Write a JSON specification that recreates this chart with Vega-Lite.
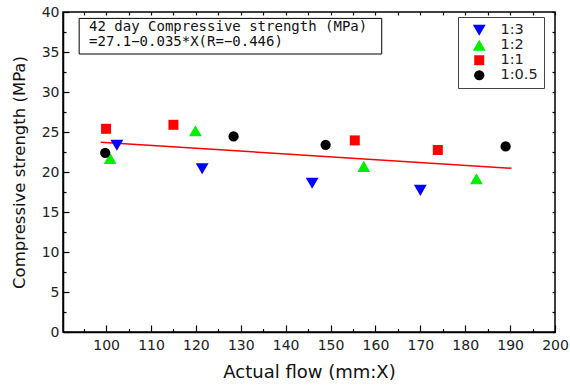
{
  "$schema": "https://vega.github.io/schema/vega-lite/v6.json",
  "width": 492,
  "height": 320,
  "autosize": {"type": "none"},
  "padding": {"left": 63, "top": 12, "right": 15, "bottom": 55},
  "config": {
    "font": "DejaVu Sans",
    "view": {"stroke": "#000", "strokeWidth": 1.5},
    "axis": {"grid": false, "domainColor": "#000", "domainWidth": 1.5, "tickColor": "#000", "tickWidth": 1.2, "labelColor": "#222", "titleColor": "#111", "labelFontSize": 14, "titleFontWeight": "normal", "labelFlush": false, "labelOverlap": false}
  },
  "datasets": {
    "points": [
      {"group": "1:3", "flow": 102.4, "strength": 23.35},
      {"group": "1:3", "flow": 121.4, "strength": 20.4},
      {"group": "1:3", "flow": 145.9, "strength": 18.6},
      {"group": "1:3", "flow": 170.0, "strength": 17.7},
      {"group": "1:2", "flow": 100.9, "strength": 21.7},
      {"group": "1:2", "flow": 119.9, "strength": 25.15},
      {"group": "1:2", "flow": 157.4, "strength": 20.7},
      {"group": "1:2", "flow": 182.5, "strength": 19.15},
      {"group": "1:1", "flow": 100.0, "strength": 25.4},
      {"group": "1:1", "flow": 115.0, "strength": 25.9},
      {"group": "1:1", "flow": 155.4, "strength": 23.95},
      {"group": "1:1", "flow": 173.9, "strength": 22.75},
      {"group": "1:0.5", "flow": 99.8, "strength": 22.4},
      {"group": "1:0.5", "flow": 128.4, "strength": 24.45},
      {"group": "1:0.5", "flow": 148.9, "strength": 23.4},
      {"group": "1:0.5", "flow": 189.0, "strength": 23.2}
    ],
    "fit": [
      {"flow": 98.8, "strength": 23.72},
      {"flow": 190.3, "strength": 20.47}
    ],
    "note": [
      {"x1": 94.0, "x2": 161.4, "y1": 34.75, "y2": 39.2}
    ],
    "noteText": [
      {"flow": 96.2, "strength": 38.95, "text": "42 day Compressive strength (MPa)\n=27.1−0.035*X(R=−0.446)"}
    ]
  },
  "layer": [
    {
      "data": {"name": "note"},
      "mark": {"type": "rect", "fill": "#fff", "stroke": "#000", "strokeWidth": 1},
      "encoding": {
        "x": {"field": "x1", "type": "quantitative", "scale": {"domain": [90.4, 200], "nice": false, "zero": false}, "axis": null},
        "x2": {"field": "x2"},
        "y": {"field": "y1", "type": "quantitative", "scale": {"domain": [0, 40], "nice": false, "zero": false}, "axis": null},
        "y2": {"field": "y2"}
      }
    },
    {
      "data": {"name": "noteText"},
      "mark": {"type": "text", "align": "left", "baseline": "top", "font": "DejaVu Sans Mono", "fontSize": 14, "lineHeight": 15, "lineBreak": "\n", "color": "#111"},
      "encoding": {
        "x": {"field": "flow", "type": "quantitative", "scale": {"domain": [90.4, 200], "nice": false, "zero": false}, "axis": null},
        "y": {"field": "strength", "type": "quantitative", "scale": {"domain": [0, 40], "nice": false, "zero": false}, "axis": null},
        "text": {"field": "text", "type": "nominal"}
      }
    },
    {
      "data": {"name": "fit"},
      "mark": {"type": "line", "color": "#ff0000", "strokeWidth": 1.5},
      "encoding": {
        "x": {"field": "flow", "type": "quantitative", "scale": {"domain": [90.4, 200], "nice": false, "zero": false},
          "axis": {"orient": "top", "title": null, "labels": false, "domain": false, "values": [95,100,105,110,115,120,125,130,135,140,145,150,155,160,165,170,175,180,185,190,195,200], "tickSize": -3}},
        "y": {"field": "strength", "type": "quantitative", "scale": {"domain": [0, 40], "nice": false, "zero": false},
          "axis": {"orient": "right", "title": null, "labels": false, "domain": false, "values": [0,2.5,5,7.5,10,12.5,15,17.5,20,22.5,25,27.5,30,32.5,35,37.5,40], "tickSize": -3}}
      }
    },
    {
      "data": {"name": "points"},
      "mark": {"type": "point", "filled": true, "opacity": 1},
      "encoding": {
        "x": {"field": "flow", "type": "quantitative", "scale": {"domain": [90.4, 200], "nice": false, "zero": false},
          "axis": {"orient": "bottom", "title": "Actual flow (mm:X)", "titleFontSize": 18, "titlePadding": 8,
            "values": [95,100,105,110,115,120,125,130,135,140,145,150,155,160,165,170,175,180,185,190,195,200],
            "tickSize": {"condition": {"test": "datum.value % 10 === 0", "value": -7}, "value": -3.5},
            "labelExpr": "datum.value % 10 === 0 ? datum.label : ''", "labelPadding": 13}},
        "y": {"field": "strength", "type": "quantitative", "scale": {"domain": [0, 40], "nice": false, "zero": false},
          "axis": {"orient": "left", "title": "Compressive strength (MPa)", "titleFontSize": 16.5, "titlePadding": 14,
            "values": [0,2.5,5,7.5,10,12.5,15,17.5,20,22.5,25,27.5,30,32.5,35,37.5,40],
            "tickSize": {"condition": {"test": "datum.value % 5 === 0", "value": -6}, "value": -3},
            "labelExpr": "datum.value % 5 === 0 ? datum.label : ''", "labelPadding": 10}},
        "color": {"field": "group", "type": "nominal",
          "scale": {"domain": ["1:3", "1:2", "1:1", "1:0.5"], "range": ["#0000ff", "#00ee00", "#ff0000", "#000000"]},
          "legend": {"title": null, "orient": "none", "legendX": 395, "legendY": 5, "strokeColor": "#444", "fillColor": "#fff", "padding": 6, "symbolOffset": 8, "labelOffset": 14, "labelFontSize": 14.5, "labelColor": "#222", "symbolSize": 110, "rowPadding": 0, "symbolStrokeWidth": 0}},
        "shape": {"field": "group", "type": "nominal",
          "scale": {"domain": ["1:3", "1:2", "1:1", "1:0.5"], "range": ["triangle-down", "triangle-up", "square", "circle"]},
          "legend": {"title": null, "orient": "none", "legendX": 395, "legendY": 5, "strokeColor": "#444", "fillColor": "#fff", "padding": 6, "symbolOffset": 8, "labelOffset": 14, "labelFontSize": 14.5, "labelColor": "#222", "symbolSize": 110, "rowPadding": 0, "symbolStrokeWidth": 0}},
        "size": {"field": "group", "type": "nominal",
          "scale": {"type": "ordinal", "domain": ["1:3", "1:2", "1:1", "1:0.5"], "range": [165, 165, 100, 105]}, "legend": null}
      }
    }
  ],
  "resolve": {"axis": {"x": "independent", "y": "independent"}}
}
